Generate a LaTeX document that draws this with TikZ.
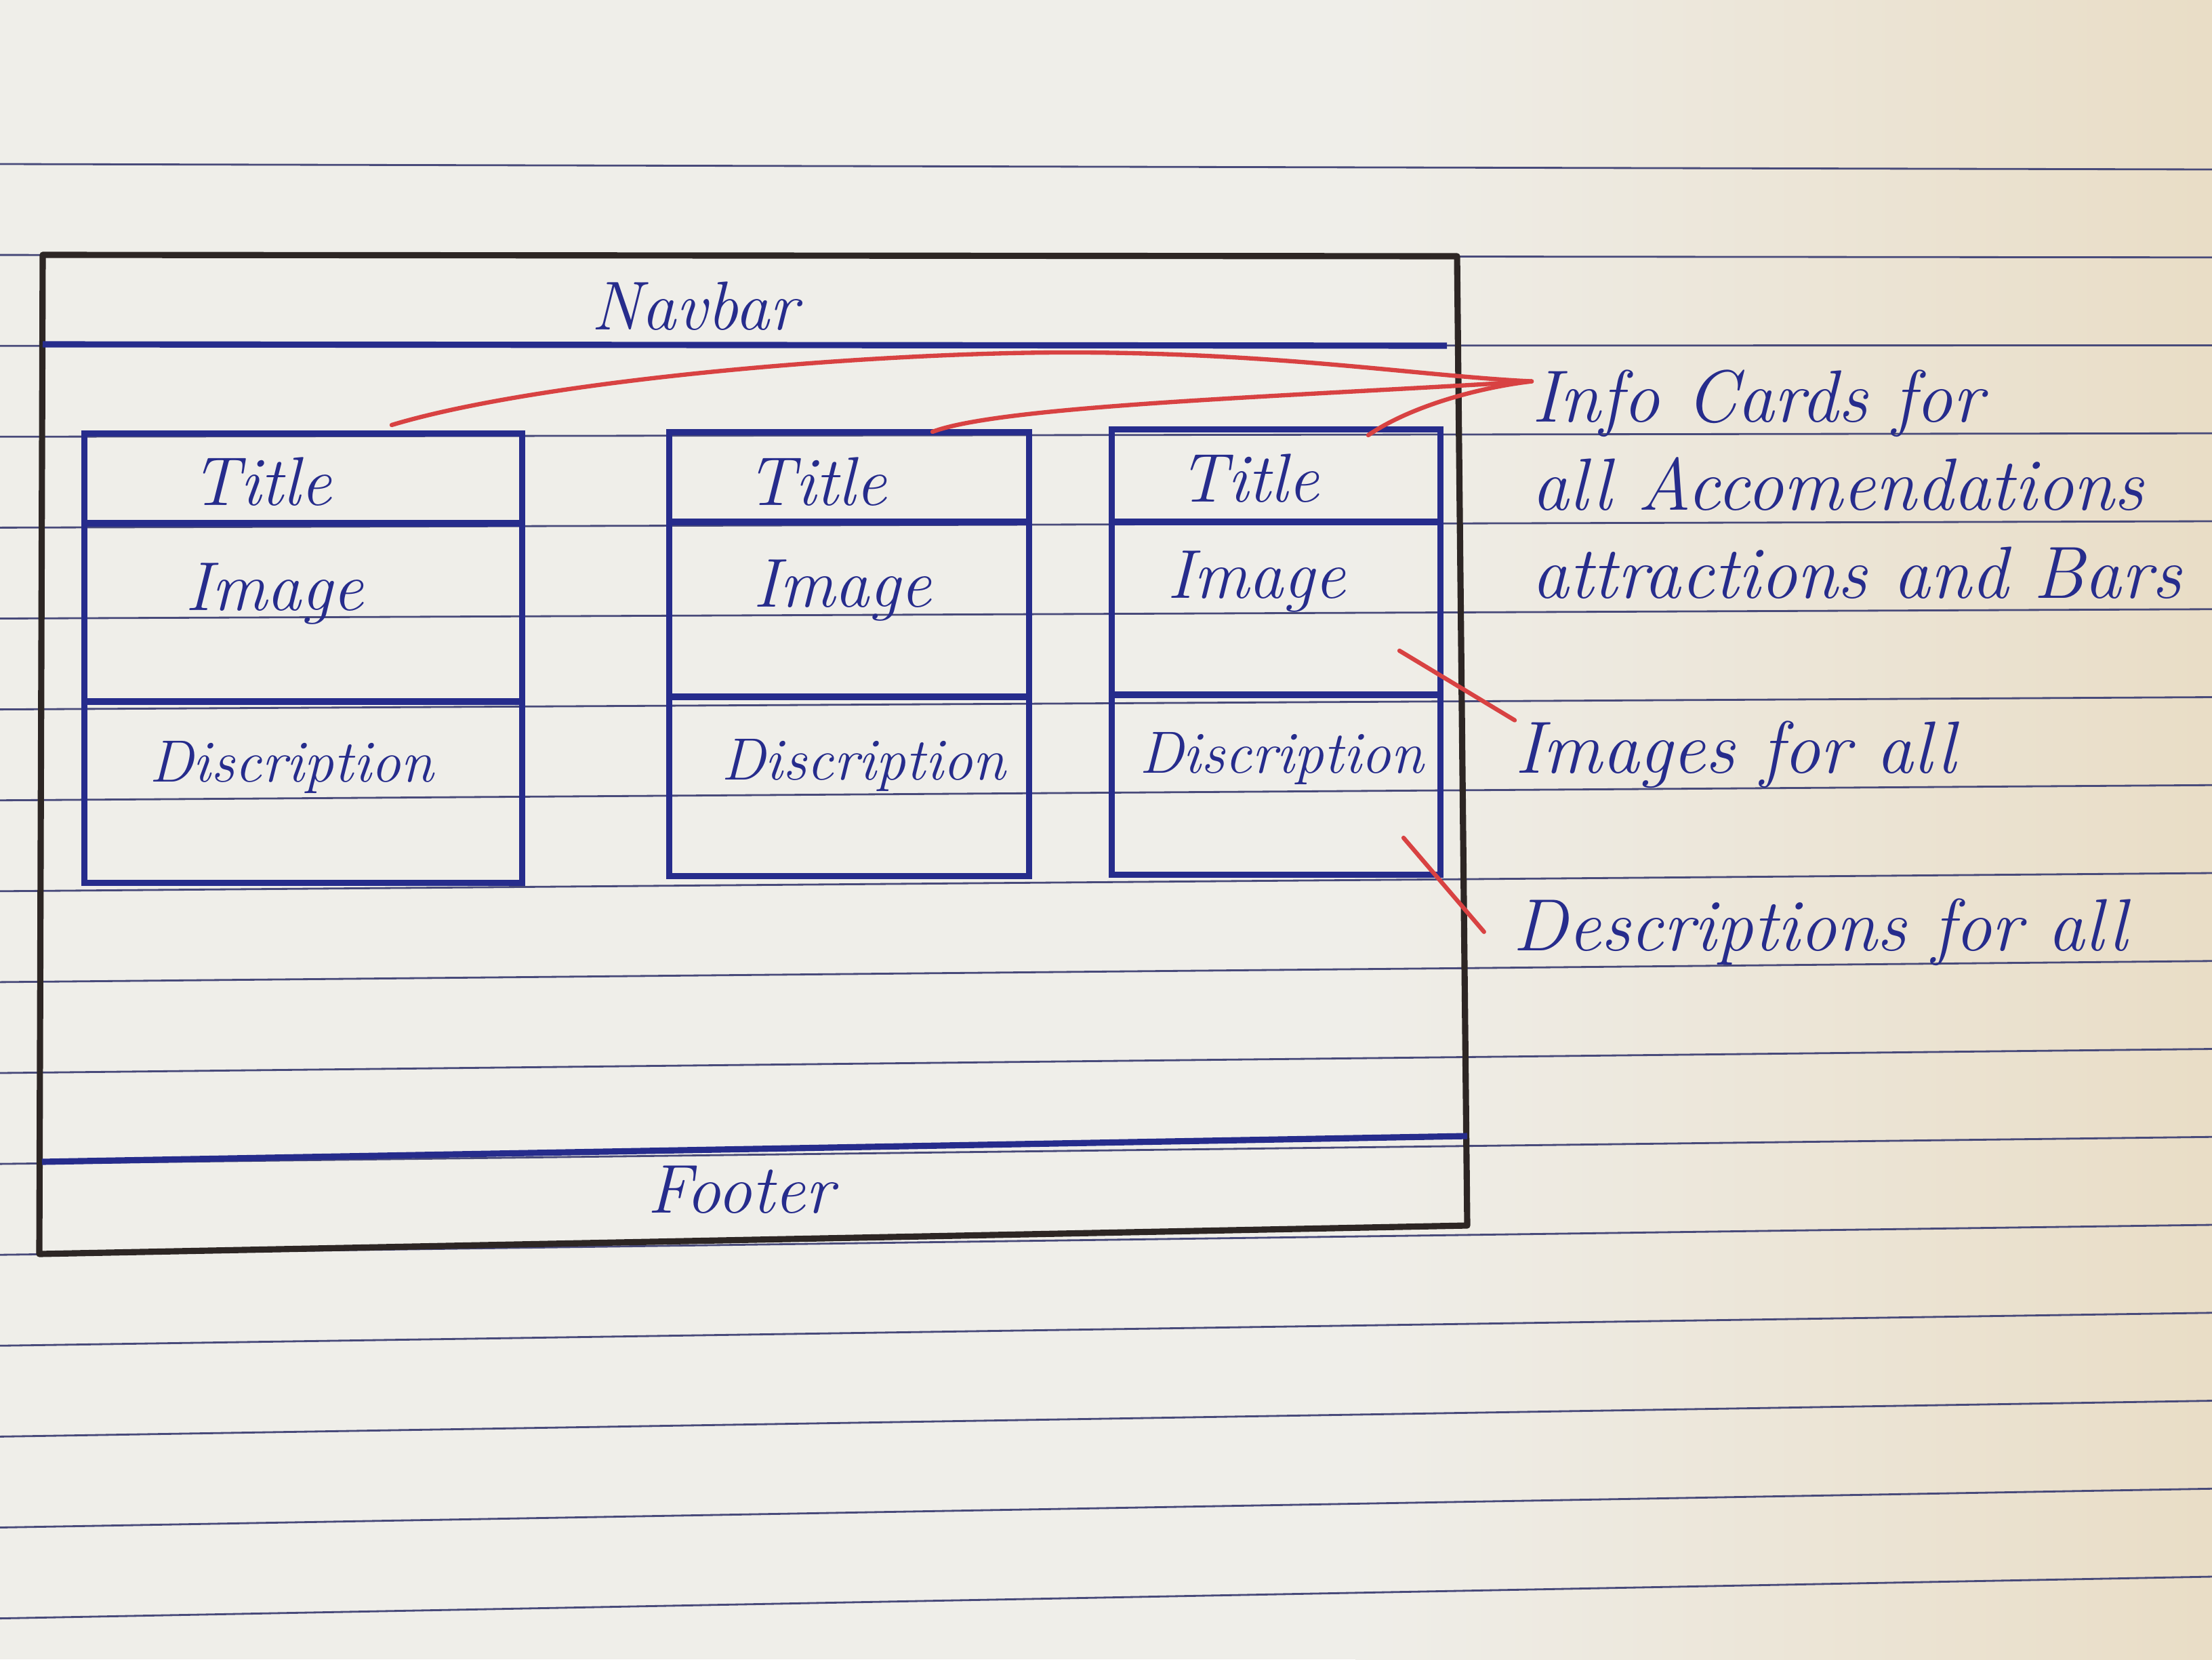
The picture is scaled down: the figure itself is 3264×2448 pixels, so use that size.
\documentclass[tikz,border=0pt]{standalone}
\usepackage{fontspec}
\usepackage{tikz}

\definecolor{ink}{RGB}{38,44,140}
\definecolor{redink}{RGB}{216,66,66}
\definecolor{frameink}{RGB}{45,38,36}
\definecolor{rulecol}{RGB}{72,74,122}
\definecolor{paperl}{RGB}{239,238,233}
\definecolor{paperr}{RGB}{233,221,198}

\tikzset{
  pen/.style={draw=ink, line width=2.6pt},
  card/.style={pen, rectangle, inner sep=0pt},
  rule/.style={draw=rulecol, line width=0.8pt},
  frame/.style={draw=frameink, line width=2.6pt, line join=round},
  redline/.style={draw=redink, line width=1.8pt, line cap=round},
  hand/.style={text=ink, font=\fontsize{29}{34}\selectfont\itshape, inner sep=0pt},
  smallhand/.style={hand, font=\fontsize{25}{30}\selectfont\itshape},
  note/.style={text=ink, font=\fontsize{31}{37}\selectfont\itshape, inner sep=0pt, align=left}
}

\begin{document}
\begin{tikzpicture}[x=0.01cm, y=-0.01cm]

	\useasboundingbox (0,0) rectangle (3264,2448);
	\fill[paperl] (0,0) rectangle (3264,2448);
	\shade[left color=paperl, right color=paperr] (2000,0) rectangle (3264,2448);
	\foreach \k in {0,...,16}
		\draw[rule] (0,{242+134.1*\k}) -- (3264,{250+129.75*\k});

	\coordinate (ftl) at (63,376);
	\coordinate (ftr) at (2150,378);
	\coordinate (fbr) at (2165,1808);
	\coordinate (fbl) at (58,1850);
	\draw[frame] (ftl) -- (ftr) -- (fbr) -- (fbl) -- cycle;

	\draw[pen] (63,508) -- (2135,510);
	\draw[pen] (62,1714) -- (2165,1676);
	\node[hand] (nav) at (1025,452) {Navbar};
	\node[hand] (foot) at (1093,1755) {Footer};

	\node[card, minimum width=6.45cm, minimum height=6.62cm] (c1) at (447.5,971) {};
	\node[card, minimum width=5.30cm, minimum height=6.54cm] (c2) at (1253,965) {};
	\node[card, minimum width=4.84cm, minimum height=6.56cm] (c3) at (1883,962) {};

	\draw[pen] (125,772) -- (770,772);
	\draw[pen] (125,1035) -- (770,1035);
	\draw[pen] (988,770) -- (1518,770);
	\draw[pen] (988,1028) -- (1518,1028);
	\draw[pen] (1641,770) -- (2125,770);
	\draw[pen] (1641,1025) -- (2125,1025);

	\node[hand, anchor=base] (t1) at (386,745) {Title};
	\node[hand, anchor=base] (i1) at (405,900) {Image};
	\node[smallhand, anchor=base] (d1) at (430,1153) {Discription};
	\node[hand, anchor=base] (t2) at (1205,745) {Title};
	\node[hand, anchor=base] (i2) at (1243,895) {Image};
	\node[smallhand, anchor=base] (d2) at (1274,1150) {Discription};
	\node[hand, anchor=base] (t3) at (1843,740) {Title};
	\node[hand, anchor=base] (i3) at (1854,882) {Image};
	\node[smallhand, anchor=base] (d3) at (1891,1140) {Discription};

	\node[note, anchor=north west] (info) at (2260,545) {Info Cards for\\all Accomendations\\attractions and Bars};
	\node[note, anchor=base west] (img) at (2235,1140) {Images for all};
	\node[note, anchor=base west] (desc) at (2232,1402) {Descriptions for all};

	\coordinate (p1) at (578,627);
	\coordinate (p2) at (1376,637);
	\coordinate (p3) at (2019,642);
	\coordinate (q1) at (2065,960);
	\coordinate (q2) at (2071,1236);

	\draw[redline] (p1) .. controls (800,560) and (1300,518) .. (1600,520) .. controls (1900,522) and (2100,555) .. ([yshift=-5pt]info.north west);
	\draw[redline] (p2) .. controls (1480,598) and (1900,585) .. ([yshift=-5pt]info.north west);
	\draw[redline] (p3) .. controls (2080,600) and (2180,572) .. ([yshift=-5pt]info.north west);
	\draw[redline] (q1) -- (img.north west);
	\draw[redline] (q2) -- ([xshift=-12pt]desc.west);

\end{tikzpicture}
\end{document}
